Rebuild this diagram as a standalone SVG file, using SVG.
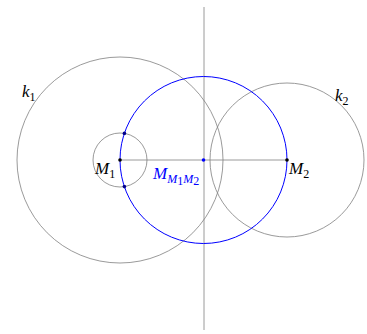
<svg xmlns="http://www.w3.org/2000/svg" width="367" height="334" viewBox="0 0 367 334">
<style>
.g{fill:none;stroke:#808080;stroke-width:0.8}
.b{fill:none;stroke:#0000ff;stroke-width:1}
.t{font-family:"Liberation Serif",serif;font-style:italic;font-size:17px}
.s{font-family:"Liberation Serif",serif;font-style:normal;font-size:12px}
</style>
<rect width="367" height="334" fill="#fff"/>
<g id="connectors">
<line class="g" x1="204" y1="7" x2="204" y2="330"/>
<line class="g" x1="120" y1="160" x2="287" y2="160"/>
</g>
<g id="k1"><circle class="g" cx="120" cy="160" r="103"/></g>
<g id="k2"><circle class="g" cx="287" cy="160" r="77"/></g>
<g id="small"><circle class="g" cx="120" cy="160" r="27"/></g>
<g id="thales"><circle class="b" cx="203.5" cy="160" r="83.5"/></g>
<g id="points">
<circle cx="120" cy="160" r="1.8" fill="#000"/>
<circle cx="287" cy="160" r="1.8" fill="#000"/>
<circle cx="203.5" cy="160" r="1.8" fill="#0000ff"/>
<circle cx="124.4" cy="133.4" r="1.8" fill="#00008b"/>
<circle cx="124.4" cy="186.6" r="1.8" fill="#00008b"/>
</g>
<g id="labels">
<text class="t" x="95" y="174">M<tspan class="s" dy="4">1</tspan></text>
<text class="t" x="289" y="174">M<tspan class="s" dy="4">2</tspan></text>
<text class="t" x="22" y="97">k<tspan class="s" dy="4">1</tspan></text>
<text class="t" x="335" y="101">k<tspan class="s" dy="4">2</tspan></text>
<text class="t" x="153" y="179" fill="#0000ff">M<tspan font-size="12" dy="4">M</tspan><tspan class="s" font-size="9" dy="2">1</tspan><tspan font-size="12" dy="-2">M</tspan><tspan class="s" font-size="9" dy="2">2</tspan></text>
</g>
</svg>
